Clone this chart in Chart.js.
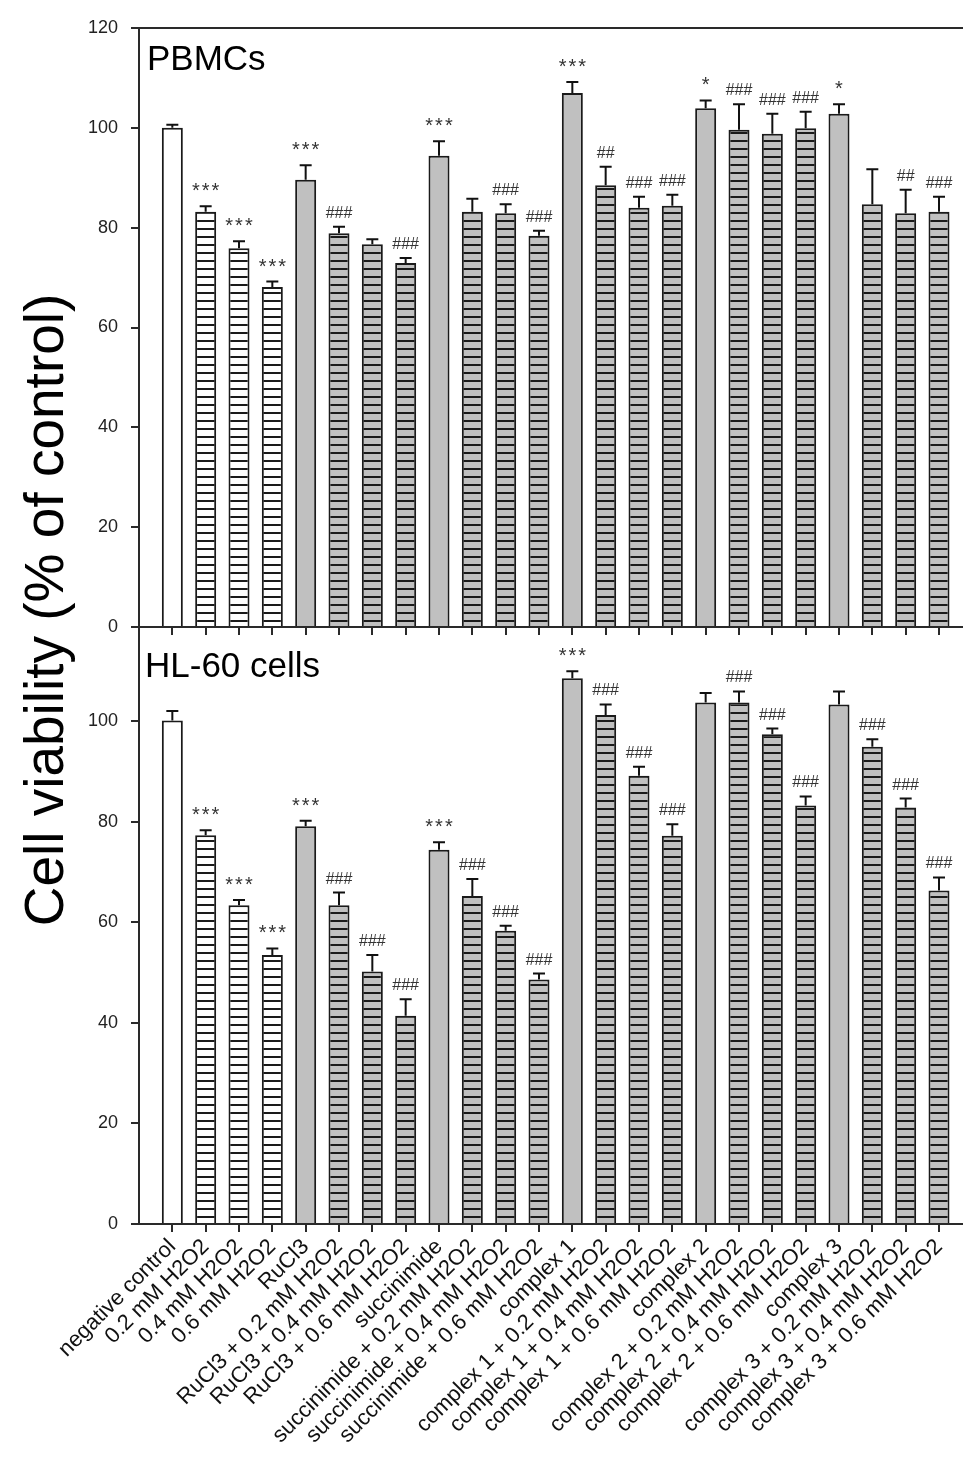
<!DOCTYPE html>
<html>
<head>
<meta charset="utf-8">
<script src="https://cdn.jsdelivr.net/npm/chart.js@4.4.1/dist/chart.umd.min.js"></script>
<style>
  html, body { margin: 0; padding: 0; background: #fff; }
  #wrap { position: relative; width: 963px; height: 1457px; overflow: hidden; }
  #wrap canvas { position: absolute; left: 0; top: 0; }
</style>
</head>
<body>
<div id="wrap">
  <canvas id="pbmcChart" width="963" height="1457"></canvas>
  <canvas id="hlChart" width="963" height="1457"></canvas>
</div>
<script>
// categories (shared x axis)
const categories = [
  'negative control', '0.2 mM H2O2', '0.4 mM H2O2', '0.6 mM H2O2',
  'RuCl3', 'RuCl3 + 0.2 mM H2O2', 'RuCl3 + 0.4 mM H2O2', 'RuCl3 + 0.6 mM H2O2',
  'succinimide', 'succinimide + 0.2 mM H2O2', 'succinimide + 0.4 mM H2O2', 'succinimide + 0.6 mM H2O2',
  'complex 1', 'complex 1 + 0.2 mM H2O2', 'complex 1 + 0.4 mM H2O2', 'complex 1 + 0.6 mM H2O2',
  'complex 2', 'complex 2 + 0.2 mM H2O2', 'complex 2 + 0.4 mM H2O2', 'complex 2 + 0.6 mM H2O2',
  'complex 3', 'complex 3 + 0.2 mM H2O2', 'complex 3 + 0.4 mM H2O2', 'complex 3 + 0.6 mM H2O2'
];

// PBMCs panel
const pbmcMean = [100.0, 83.2, 75.9, 68.1, 89.6, 78.9, 76.7, 72.9, 94.4, 83.2, 82.9, 78.4,
                  107.0, 88.5, 84.0, 84.4, 103.9, 99.6, 98.8, 99.9, 102.8, 84.7, 82.9, 83.2];
const pbmcSem  = [0.6, 1.1, 1.4, 1.1, 2.9, 1.3, 1.0, 1.0, 2.9, 2.6, 1.8, 1.0,
                  2.2, 3.7, 2.2, 2.2, 1.6, 5.1, 4.0, 3.3, 1.9, 7.0, 4.7, 3.0];
const pbmcMarks = ['', '***', '***', '***', '***', '###', '', '###', '***', '', '###', '###',
                   '***', '##', '###', '###', '*', '###', '###', '###', '*', '', '##', '###'];

// HL-60 panel
const hlMean = [100.1, 77.3, 63.4, 53.5, 79.1, 63.4, 50.2, 41.4, 74.4, 65.2, 58.3, 48.6,
                108.5, 101.2, 89.1, 77.2, 103.7, 103.7, 97.4, 83.2, 103.3, 94.9, 82.8, 66.3];
const hlSem  = [1.9, 1.0, 1.0, 1.3, 1.1, 2.5, 3.3, 3.3, 1.5, 3.4, 1.0, 1.2,
                1.4, 2.1, 1.8, 2.3, 1.9, 2.2, 1.1, 1.8, 2.6, 1.5, 1.8, 2.6];
const hlMarks = ['', '***', '***', '***', '***', '###', '###', '###', '***', '###', '###', '###',
                 '***', '###', '###', '###', '', '###', '###', '###', '', '###', '###', '###'];

const yTicksTop = [0, 20, 40, 60, 80, 100, 120];
const yTicksBottom = [0, 20, 40, 60, 80, 100];

const FONT = "'Liberation Sans', Arial, sans-serif";
const AXIS = '#2a2a2a';
const GRAY = '#c0c0c0';

// horizontal line hatching
function makeHatch(ctx, bg, phase) {
  const c = document.createElement('canvas');
  c.width = 8; c.height = 8;
  const g = c.getContext('2d');
  g.fillStyle = bg;
  g.fillRect(0, 0, 8, 8);
  g.fillStyle = '#1a1a1a';
  g.fillRect(0, phase, 8, 2);
  return ctx.createPattern(c, 'repeat');
}

function fillsFor(ctx, phase) {
  const openHatch = makeHatch(ctx, '#ffffff', phase);
  const grayHatch = makeHatch(ctx, GRAY, phase);
  return categories.map((_, i) => {
    if (i === 0) return '#ffffff';
    if (i < 4) return openHatch;
    return (i - 4) % 4 === 0 ? GRAY : grayHatch;
  });
}

function errorBars(mean, sem, marks) {
  return {
    id: 'errorBars',
    afterDatasetsDraw(chart) {
      const ctx = chart.ctx;
      const y = chart.scales.y;
      const meta = chart.getDatasetMeta(0);
      ctx.save();
      ctx.strokeStyle = '#111';
      ctx.lineWidth = 2;
      meta.data.forEach((bar, i) => {
        const top = y.getPixelForValue(mean[i] + sem[i]);
        ctx.beginPath();
        ctx.moveTo(bar.x, bar.y);
        ctx.lineTo(bar.x, top);
        ctx.moveTo(bar.x - 6, top);
        ctx.lineTo(bar.x + 6, top);
        ctx.stroke();
        const m = marks[i];
        if (m) {
          ctx.fillStyle = '#333';
          ctx.textAlign = 'center';
          ctx.textBaseline = 'alphabetic';
          if (m[0] === '*') {
            ctx.font = '20px ' + FONT;
            ctx.letterSpacing = '2px';
            ctx.fillText(m, bar.x + 1, top - 9);
          } else {
            ctx.font = '16px ' + FONT;
            ctx.letterSpacing = '0px';
            ctx.fillText(m, bar.x, top - 9);
          }
        }
      });
      ctx.restore();
    }
  };
}

function panelLabel(text, x, y, withFrame) {
  return {
    id: 'panelLabel',
    afterDraw(chart) {
      const ctx = chart.ctx;
      const a = chart.chartArea;
      ctx.save();
      if (withFrame) {
        ctx.strokeStyle = AXIS;
        ctx.lineWidth = 2;
        ctx.beginPath();
        ctx.moveTo(a.left, a.top);
        ctx.lineTo(a.right, a.top);
        ctx.stroke();
      }
      ctx.fillStyle = '#000';
      ctx.font = '35px ' + FONT;
      ctx.textAlign = 'left';
      ctx.textBaseline = 'alphabetic';
      ctx.fillText(text, x, y);
      ctx.restore();
    }
  };
}

const yTitle = {
  id: 'yTitle',
  afterDraw(chart) {
    const ctx = chart.ctx;
    ctx.save();
    ctx.translate(48, 610);
    ctx.rotate(-Math.PI / 2);
    ctx.fillStyle = '#000';
    ctx.font = '55px ' + FONT;
    ctx.textAlign = 'center';
    ctx.textBaseline = 'middle';
    ctx.fillText('Cell viability (% of control)', 0, 0);
    ctx.restore();
  }
};

function xScale(showLabels, height) {
  return {
    type: 'linear',
    min: -1,
    max: 23.72,
    offset: false,
    afterBuildTicks: s => { s.ticks = categories.map((_, i) => ({ value: i })); },
    afterFit: s => { s.height = height; },
    ticks: {
      display: showLabels,
      autoSkip: false,
      minRotation: 45,
      maxRotation: 45,
      padding: 2,
      color: '#111',
      font: { family: FONT, size: 22 },
      callback: v => categories[v]
    },
    grid: { offset: false, drawOnChartArea: false, tickLength: 8, color: AXIS, lineWidth: 2 },
    border: { color: AXIS, width: 2 }
  };
}

function yScale(max, tickValues) {
  return {
    min: 0,
    max: max,
    afterBuildTicks: s => { s.ticks = tickValues.map(v => ({ value: v })); },
    afterFit: s => { s.width = 139; },
    ticks: {
      padding: 13,
      color: '#222',
      font: { family: FONT, size: 18 }
    },
    grid: { drawOnChartArea: false, tickLength: 8, color: AXIS, lineWidth: 2 },
    border: { color: AXIS, width: 2 }
  };
}

function buildPanel(id, mean, sem, marks, yMax, yTicks, padding, xHeight, showX, plugins, phase) {
  const ctx = document.getElementById(id).getContext('2d');
  return new Chart(ctx, {
    type: 'bar',
    data: {
      datasets: [{
        data: mean.map((v, i) => ({ x: i, y: v })),
        backgroundColor: fillsFor(ctx, phase),
        borderColor: '#1a1a1a',
        borderWidth: 2,
        barPercentage: 0.63,
        categoryPercentage: 1
      }]
    },
    options: {
      responsive: false,
      animation: false,
      devicePixelRatio: 1,
      layout: { padding: padding },
      plugins: { legend: { display: false }, tooltip: { enabled: false } },
      scales: {
        x: xScale(showX, xHeight),
        y: yScale(yMax, yTicks)
      }
    },
    plugins: [errorBars(mean, sem, marks)].concat(plugins)
  });
}

buildPanel('pbmcChart', pbmcMean, pbmcSem, pbmcMarks, 120, yTicksTop,
  { left: 0, right: 0, top: 28, bottom: 810 }, 20, false,
  [panelLabel('PBMCs', 147, 70, true)], 4);

buildPanel('hlChart', hlMean, hlSem, hlMarks, 118.7, yTicksBottom,
  { left: 0, right: 0, top: 627, bottom: 0 }, 233, true,
  [panelLabel('HL-60 cells', 145, 677, false), yTitle], 0);
</script>
</body>
</html>
